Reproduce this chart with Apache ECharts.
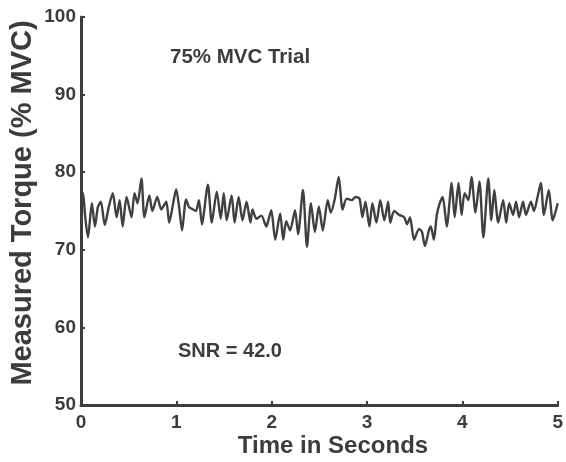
<!DOCTYPE html>
<html>
<head>
<meta charset="utf-8">
<script src="https://cdn.jsdelivr.net/npm/echarts@6/dist/echarts.min.js"></script>
<style>html,body{margin:0;padding:0;background:#fff;}#c{width:566px;height:462px;}</style>
</head>
<body>
<div id="c"></div>
<script>
// Time in seconds
const timeSec = [0,0.021,0.042,0.073,0.114,0.146,0.177,0.208,0.249,0.291,0.333,0.374,0.405,0.437,0.478,0.530,0.561,0.593,0.634,0.665,0.717,0.748,0.800,0.842,0.894,0.925,0.967,0.998,1.029,1.060,1.102,1.133,1.175,1.206,1.237,1.268,1.331,1.372,1.424,1.466,1.497,1.528,1.580,1.611,1.653,1.694,1.736,1.778,1.798,1.840,1.892,1.944,1.965,1.996,2.037,2.089,2.121,2.152,2.193,2.245,2.277,2.328,2.370,2.412,2.453,2.495,2.536,2.588,2.620,2.661,2.703,2.744,2.786,2.838,2.879,2.921,2.952,2.983,3.025,3.056,3.098,3.139,3.181,3.222,3.243,3.285,3.337,3.389,3.420,3.451,3.493,3.545,3.576,3.607,3.649,3.669,3.701,3.732,3.763,3.794,3.836,3.888,3.919,3.960,3.992,4.023,4.064,4.096,4.137,4.179,4.220,4.272,4.304,4.335,4.376,4.428,4.460,4.491,4.532,4.563,4.595,4.636,4.667,4.719,4.751,4.792,4.823,4.855,4.906,4.948,5.0];
// Measured torque (% MVC)
const torque = [76.5,77.3,74.5,71.6,76.0,73.0,75.5,76.2,73.2,75.5,77.3,74.2,76.4,73.0,76.8,74.2,77.3,76.0,79.2,74.2,77.0,75.0,76.8,75.2,76.2,73.5,76.0,77.8,75.5,72.5,76.5,75.5,75.2,75.0,76.4,73.3,78.4,73.5,77.5,74.0,77.3,73.8,77.0,73.5,76.8,73.8,76.2,73.5,75.2,74.0,74.4,73.0,73.8,75.1,71.3,74.7,71.3,73.7,72.5,75.1,72.0,77.7,70.4,76.0,72.3,75.6,72.5,76.4,74.8,76.5,79.4,75.2,76.6,76.4,76.8,76.6,74.2,76.2,73.0,76.0,73.5,76.4,73.8,76.2,73.5,75.0,74.5,74.2,73.3,74.2,71.3,72.7,72.3,70.5,72.5,73.0,71.3,74.5,76.0,76.8,73.0,78.6,74.2,78.6,74.5,77.3,76.4,79.4,74.8,78.8,71.6,79.2,73.8,77.7,73.5,76.4,73.5,76.0,74.5,76.2,74.2,76.2,74.5,76.2,75.0,77.0,78.6,74.5,77.7,73.8,76.0];
const xTicks = [0,1,2,3,4,5];
const yTicks = [50,60,70,80,90,100];
const xTitle = 'Time in Seconds';
const yTitle = 'Measured Torque (% MVC)';
const note1 = '75% MVC Trial';
const note2 = 'SNR = 42.0';

const chart = echarts.init(document.getElementById('c'), null, {renderer:'canvas'});
const axisCol = '#3c3c3c';
const font = 'Liberation Sans, Arial, sans-serif';
chart.setOption({
  animation:false,
  backgroundColor:'#fff',
  grid:{left:81,right:4,top:17,bottom:57,containLabel:false},
  xAxis:{
    type:'value', min:xTicks[0], max:xTicks[xTicks.length-1], interval:1,
    axisLine:{show:true,lineStyle:{color:axisCol,width:3}},
    axisTick:{show:true,inside:true,length:4,lineStyle:{color:axisCol,width:2}},
    axisLabel:{fontFamily:font,fontSize:19,fontWeight:'bold',color:axisCol,margin:8},
    splitLine:{show:false}
  },
  yAxis:{
    type:'value', min:yTicks[0], max:yTicks[yTicks.length-1], interval:10,
    axisLine:{show:true,lineStyle:{color:axisCol,width:3}},
    axisTick:{show:true,inside:true,length:4,lineStyle:{color:axisCol,width:2}},
    axisLabel:{fontFamily:font,fontSize:19,fontWeight:'bold',color:axisCol,margin:5},
    splitLine:{show:false}
  },
  graphic:[
    {type:'text',x:333,y:446,style:{text:xTitle,font:'bold 24px '+font,fill:axisCol,align:'center',verticalAlign:'middle'}},
    {type:'text',x:23,y:203,rotation:Math.PI/2,style:{text:yTitle,font:'bold 29px '+font,fill:axisCol,align:'center',verticalAlign:'middle'}},
    {type:'text',x:170,y:57,style:{text:note1,font:'bold 20.5px '+font,fill:axisCol,verticalAlign:'middle'}},
    {type:'text',x:178,y:351,style:{text:note2,font:'bold 20px '+font,fill:axisCol,verticalAlign:'middle'}}
  ],
  series:[{
    type:'line', showSymbol:false, smooth:0.25,
    data: timeSec.map((t,i)=>[t,torque[i]]),
    lineStyle:{color:'#404040',width:2.4}
  }]
});
</script>
</body>
</html>
